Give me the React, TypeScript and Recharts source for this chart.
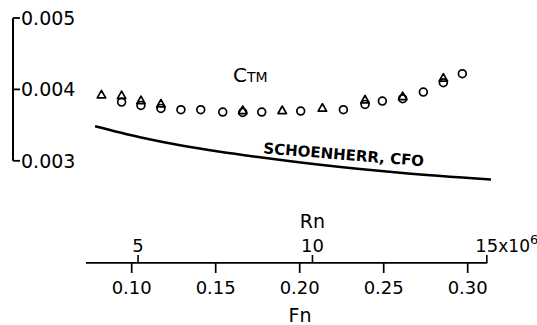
import React from 'react';
import { ComposedChart, Line, Scatter, XAxis, YAxis, ReferenceLine, ReferenceDot } from 'recharts';

// measured points, Froude number vs total resistance coefficient
const fnCircles = [0.094, 0.1055, 0.1174, 0.1293, 0.1411, 0.1542, 0.1661, 0.1774, 0.2006, 0.226, 0.2389, 0.2492, 0.2613, 0.2736, 0.2855, 0.2968];
const ctmCircles = [0.003822, 0.003776, 0.003734, 0.003716, 0.003716, 0.003683, 0.003678, 0.003683, 0.003697, 0.003716, 0.00379, 0.003836, 0.00387, 0.003962, 0.004094, 0.00422];
const fnTriangles = [0.082, 0.094, 0.1055, 0.1174, 0.1661, 0.1896, 0.2135, 0.2389, 0.2613, 0.2855];
const ctmTriangles = [0.003916, 0.003906, 0.003836, 0.00379, 0.003697, 0.003697, 0.00373, 0.003846, 0.003892, 0.00415];

// Schoenherr friction line
const fnSchoenherr = [0.0782, 0.1049, 0.1288, 0.1526, 0.1764, 0.2121, 0.2597, 0.3139];
const cfSchoenherr = [0.003483, 0.003329, 0.003217, 0.003126, 0.003049, 0.002944, 0.002832, 0.002737];

const fnTicks = [0.1, 0.15, 0.2, 0.25, 0.3];
const rnTicks = [5, 10, 15];
const ctmTicks = [0.003, 0.004, 0.005];

const RN_PER_FN = 48.17; // Rn (x10^6) per unit Fn
const FN_MIN = 0.02935;
const FN_MAX = 0.31387;
const CTM_MIN = 0.0012605;
const CTM_MAX = 0.005;
const AXIS_Y = 0.001569; // level of the Fn / Rn axis line
const FN_AXIS_START = 0.0728;
const FN_AXIS_END = 0.3116;
const RN_TICK_LEN = 0.000112; // ~8px
const RN_LABEL_Y = 0.001723;

const FONT = '"DejaVu Sans", sans-serif';

const circleData = fnCircles.map((fn, i) => ({ fn, ctm: ctmCircles[i] }));
const triangleData = fnTriangles.map((fn, i) => ({ fn, ctm: ctmTriangles[i] }));
const lineData = fnSchoenherr.map((fn, i) => ({ fn, cf: cfSchoenherr[i] }));
const fnTickMarks = fnTicks.map((fn) => ({ fn, ctm: AXIS_Y }));

const CircleMark = (p: any) => (
  <circle cx={p.cx} cy={p.cy} r={3.9} fill="none" stroke="#000" strokeWidth={1.7} />
);

const TriangleMark = (p: any) => {
  const { cx, cy } = p;
  return (
    <polygon
      points={`${cx},${cy - 5} ${cx - 4.2},${cy + 2.5} ${cx + 4.2},${cy + 2.5}`}
      fill="none"
      stroke="#000"
      strokeWidth={1.7}
      strokeLinejoin="round"
    />
  );
};

// downward tick hanging from the Fn axis line
const DownTick = (p: any) => (
  <line x1={p.cx} x2={p.cx} y1={p.cy} y2={p.cy + 10} stroke="#000" strokeWidth={1.7} />
);

const FnTick = (p: any) => {
  const { x, y, payload } = p;
  return (
    <text x={x} y={y + 9} textAnchor="middle" fontSize={18} fontFamily={FONT} fill="#000">
      {payload.value.toFixed(2)}
    </text>
  );
};

const rnLabel = (rn: number) => (p: any) => {
  if (rn === 15) {
    return (
      <text x={p.cx - 11.5} y={p.cy} fontSize={18} fontFamily={FONT} fill="#000">
        15<tspan fontSize={17}>x10</tspan>
        <tspan dy={-8} fontSize={13}>6</tspan>
      </text>
    );
  }
  return (
    <text x={p.cx} y={p.cy} textAnchor="middle" fontSize={18} fontFamily={FONT} fill="#000">
      {rn}
    </text>
  );
};

export default function App() {
  return (
    <div style={{ position: 'absolute', left: 0, top: 0, background: '#fff' }}>
      <ComposedChart width={537} height={325} margin={{ top: 18, right: 46, bottom: 0, left: 13 }}>
        <XAxis
          dataKey="fn"
          type="number"
          domain={[FN_MIN, FN_MAX]}
          allowDataOverflow
          ticks={fnTicks}
          interval={0}
          axisLine={false}
          tickLine={false}
          tickSize={0}
          tickMargin={0}
          height={40}
          tick={<FnTick />}
        />
        <YAxis
          type="number"
          domain={[CTM_MIN, CTM_MAX]}
          allowDataOverflow
          ticks={ctmTicks}
          interval={0}
          tickFormatter={(v: number) => v.toFixed(3)}
          mirror
          width={1}
          axisLine={false}
          stroke="#000"
          tickSize={7}
          tickMargin={1}
          tickLine={{ stroke: '#000', strokeWidth: 1.8 }}
          tick={{ fill: '#000', fontSize: 19, fontFamily: FONT }}
        />
        <ReferenceLine
          segment={[{ x: FN_MIN, y: 0.003 }, { x: FN_MIN, y: CTM_MAX }]}
          stroke="#000"
          strokeWidth={2}
          ifOverflow="visible"
        />
        <ReferenceLine
          segment={[{ x: FN_AXIS_START, y: AXIS_Y }, { x: FN_AXIS_END, y: AXIS_Y }]}
          stroke="#000"
          strokeWidth={1.8}
          ifOverflow="visible"
        />
        {rnTicks.map((rn) => (
          <ReferenceLine
            key={`rn${rn}`}
            segment={[{ x: rn / RN_PER_FN, y: AXIS_Y }, { x: rn / RN_PER_FN, y: AXIS_Y + RN_TICK_LEN }]}
            stroke="#000"
            strokeWidth={1.6}
            ifOverflow="visible"
          />
        ))}
        {rnTicks.map((rn) => (
          <ReferenceDot
            key={`rnl${rn}`}
            x={rn / RN_PER_FN}
            y={RN_LABEL_Y}
            r={0}
            ifOverflow="visible"
            shape={rnLabel(rn)}
          />
        ))}
        <Scatter data={fnTickMarks} dataKey="ctm" shape={DownTick} isAnimationActive={false} />
        <Line
          data={lineData}
          dataKey="cf"
          type="monotone"
          stroke="#000"
          strokeWidth={2.5}
          dot={false}
          isAnimationActive={false}
        />
        <Scatter data={circleData} dataKey="ctm" shape={CircleMark} isAnimationActive={false} />
        <Scatter data={triangleData} dataKey="ctm" shape={TriangleMark} isAnimationActive={false} />
        <ReferenceDot
          x={0.1603}
          y={0.004102}
          r={0}
          ifOverflow="visible"
          shape={(p: any) => (
            <text x={p.cx} y={p.cy} fontSize={20} fontFamily={FONT} fill="#000">
              C<tspan fontSize={14}>TM</tspan>
            </text>
          )}
        />
        <ReferenceDot
          x={0.1782}
          y={0.003105}
          r={0}
          ifOverflow="visible"
          shape={(p: any) => (
            <text
              x={p.cx}
              y={p.cy}
              fontSize={15}
              fontWeight="bold"
              fontFamily={FONT}
              fill="#000"
              transform={`rotate(4.6 ${p.cx} ${p.cy})`}
            >
              SCHOENHERR, CFO
            </text>
          )}
        />
        <ReferenceDot
          x={10 / RN_PER_FN}
          y={0.002059}
          r={0}
          ifOverflow="visible"
          shape={(p: any) => (
            <text x={p.cx} y={p.cy} textAnchor="middle" fontSize={19} fontFamily={FONT} fill="#000">
              Rn
            </text>
          )}
        />
        <ReferenceDot
          x={0.2002}
          y={0.000742}
          r={0}
          ifOverflow="visible"
          shape={(p: any) => (
            <text x={p.cx} y={p.cy} textAnchor="middle" fontSize={19} fontFamily={FONT} fill="#000">
              Fn
            </text>
          )}
        />
      </ComposedChart>
    </div>
  );
}
